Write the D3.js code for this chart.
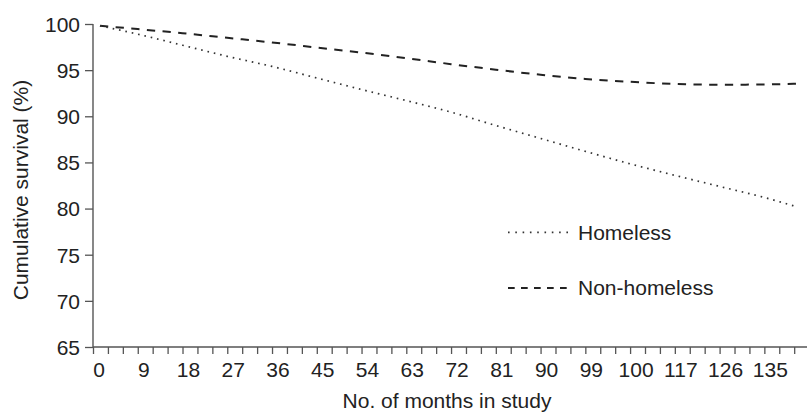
<!DOCTYPE html>
<html>
<head>
<meta charset="utf-8">
<script src="https://cdn.jsdelivr.net/npm/d3@7"></script>
<style>
  html, body { margin: 0; padding: 0; background: #fff; }
  svg { display: block; font-family: "Liberation Sans", Arial, Helvetica, sans-serif; }
</style>
</head>
<body>
<svg id="chart" width="807" height="412"></svg>
<script>
// ---- data ----
const months = [1.4, 9, 18, 27, 36, 45, 54, 63, 72, 81, 90, 99, 108, 117, 126, 135, 141.5];
const homeless = [99.8, 98.9, 97.7, 96.5, 95.4, 94.15, 92.9, 91.7, 90.45, 89.0, 87.6, 86.2, 84.85, 83.6, 82.4, 81.2, 80.2];
const nonHomeless = [99.8, 99.45, 99.0, 98.5, 98.0, 97.45, 96.9, 96.3, 95.65, 95.05, 94.5, 94.05, 93.74, 93.5, 93.42, 93.45, 93.53];
const yTicks = [65, 70, 75, 80, 85, 90, 95, 100];
const xMinorTicks = d3.range(0, 142, 3);
const xLabelValues = [0, 9, 18, 27, 36, 45, 54, 63, 72, 81, 90, 99, 108, 117, 126, 135];
const xLabelTexts = ["0", "9", "18", "27", "36", "45", "54", "63", "72", "81", "90", "99", "100", "117", "126", "135"];
const seriesNames = ["Homeless", "Non-homeless"];

// ---- layout ----
const svg = d3.select("#chart");
const mLeft = 93, mRight = 807, mTop = 24, mBottom = 347;
const x = d3.scaleLinear().domain([0, (mRight - mLeft) / 4.973]).range([mLeft, mRight]);
const y = d3.scaleLinear().domain([65, 100]).range([mBottom, mTop]);

const axisColor = "#555";
const textColor = "#222";
const fontSize = 21;

// y axis
const yAxis = d3.axisLeft(y).tickValues(yTicks).tickSize(8).tickPadding(5).tickFormat(d3.format("d"));
const gy = svg.append("g").attr("transform", `translate(${mLeft},0)`).call(yAxis);
gy.select(".domain").attr("d", `M0,${mTop}V${mBottom}`);
// x axis
const xAxis = d3.axisBottom(x).tickValues(xMinorTicks).tickSize(7).tickFormat("");
const gx = svg.append("g").attr("transform", `translate(0,${mBottom})`).call(xAxis);
gx.select(".domain").attr("d", `M${mLeft},0H${mRight}`);

[gx, gy].forEach(g => {
  g.selectAll(".domain").attr("stroke", axisColor).attr("stroke-width", 1.4);
  g.selectAll(".tick line").attr("stroke", axisColor).attr("stroke-width", 1.3);
  g.selectAll("text").attr("fill", textColor).style("font-size", fontSize + "px")
    .style("font-family", '"Liberation Sans", Arial, sans-serif');
});
gy.selectAll(".tick text").attr("dy", "0.35em");

// x tick labels
svg.append("g").selectAll("text").data(xLabelValues).join("text")
  .attr("x", (d) => x(d) + 6)
  .attr("y", 377)
  .attr("text-anchor", "middle")
  .attr("fill", textColor)
  .style("font-size", fontSize + "px")
  .text((d, i) => xLabelTexts[i]);

// axis titles
svg.append("text")
  .attr("x", 447).attr("y", 408)
  .attr("text-anchor", "middle")
  .attr("fill", textColor)
  .style("font-size", fontSize + "px")
  .text("No. of months in study");
svg.append("text")
  .attr("transform", "translate(28,190) rotate(-90)")
  .attr("text-anchor", "middle")
  .attr("fill", textColor)
  .style("font-size", fontSize + "px")
  .text("Cumulative survival (%)");

// lines
const line = d3.line().x(d => x(d[0])).y(d => y(d[1])).curve(d3.curveMonotoneX);
svg.append("path")
  .datum(months.map((m, i) => [m, nonHomeless[i]]))
  .attr("d", line)
  .attr("fill", "none").attr("stroke", "#222").attr("stroke-width", 2)
  .attr("stroke-dasharray", "8.3,7.4");
svg.append("path")
  .datum(months.map((m, i) => [m, homeless[i]]))
  .attr("d", line)
  .attr("fill", "none").attr("stroke", "#333").attr("stroke-width", 1.7)
  .attr("stroke-dasharray", "1.6,4.9");

// legend
const legend = svg.append("g");
const legendStyles = [
  { dash: "1.6,5.7", width: 1.7, color: "#333", y: 232.3, ty: 239.5 },
  { dash: "6.7,6.3", width: 1.8, color: "#222", y: 288, ty: 294.5 }
];
seriesNames.forEach((name, i) => {
  const s = legendStyles[i];
  legend.append("line")
    .attr("x1", 508).attr("x2", 568).attr("y1", s.y).attr("y2", s.y)
    .attr("stroke", s.color).attr("stroke-width", s.width).attr("stroke-dasharray", s.dash);
  legend.append("text")
    .attr("x", 578).attr("y", s.ty)
    .attr("fill", textColor)
    .style("font-size", fontSize + "px")
    .text(name);
});
</script>
</body>
</html>
